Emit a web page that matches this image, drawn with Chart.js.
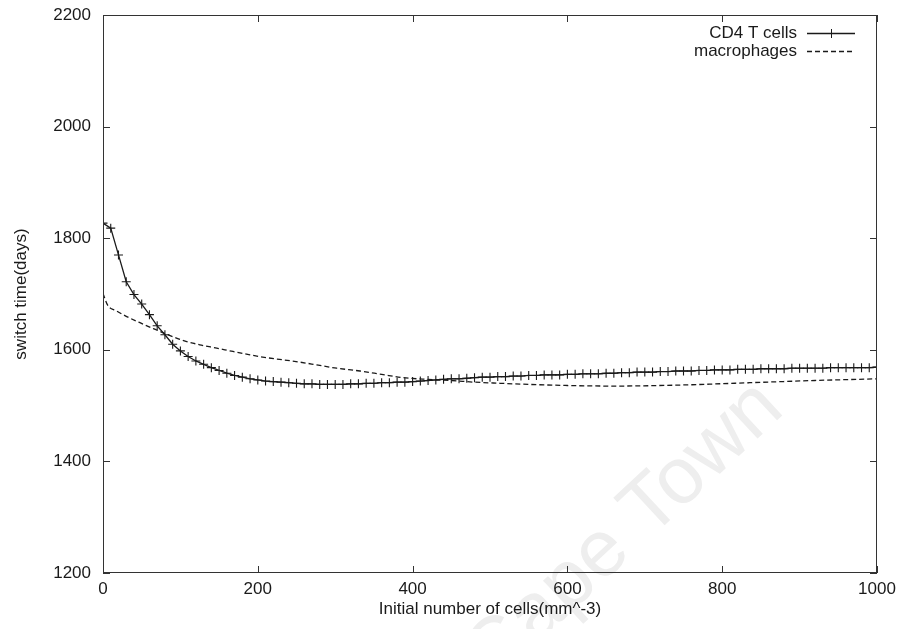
<!DOCTYPE html>
<html lang="en">
<head>
<meta charset="UTF-8">
<title>switch time vs initial number of cells</title>
<script src="https://cdn.jsdelivr.net/npm/chart.js@4.4.9/dist/chart.umd.min.js"></script>
<style>
  html, body { margin: 0; padding: 0; background: #fff; }
  #wrap { width: 902px; height: 629px; }
</style>
</head>
<body>
<div id="wrap"><canvas id="chart" width="902" height="629"></canvas></div>
<script>
// x values of the CD4 T cell run (one marker every 10 cells/mm^3)
var cd4X = [0, 10, 20, 30, 40, 50, 60, 70, 80, 90,
            100, 110, 120, 130, 140, 150, 160, 170, 180, 190,
            200, 210, 220, 230, 240, 250, 260, 270, 280, 290,
            300, 310, 320, 330, 340, 350, 360, 370, 380, 390,
            400, 410, 420, 430, 440, 450, 460, 470, 480, 490,
            500, 510, 520, 530, 540, 550, 560, 570, 580, 590,
            600, 610, 620, 630, 640, 650, 660, 670, 680, 690,
            700, 710, 720, 730, 740, 750, 760, 770, 780, 790,
            800, 810, 820, 830, 840, 850, 860, 870, 880, 890,
            900, 910, 920, 930, 940, 950, 960, 970, 980, 990, 1000];
var cd4Days = [1827, 1818, 1770, 1722, 1699, 1682, 1663, 1643, 1627, 1610,
               1598, 1588, 1580, 1574, 1568, 1563, 1558, 1554, 1551, 1548,
               1546, 1544, 1543, 1542, 1541, 1540, 1539, 1539, 1538, 1538,
               1538, 1538, 1539, 1539, 1540, 1540, 1541, 1541, 1542, 1542,
               1543, 1544, 1545, 1546, 1547, 1548, 1548, 1549, 1550, 1551,
               1551, 1552, 1552, 1553, 1553, 1554, 1554, 1555, 1555, 1555,
               1556, 1556, 1557, 1557, 1557, 1558, 1558, 1559, 1559, 1560,
               1560, 1560, 1561, 1561, 1562, 1562, 1562, 1563, 1563, 1564,
               1564, 1564, 1565, 1565, 1565, 1566, 1566, 1566, 1566, 1567,
               1567, 1567, 1567, 1567, 1568, 1568, 1568, 1568, 1568, 1568, 1569];

// macrophage run (dashed curve)
var macroX = [0, 6, 17, 30, 47, 65, 82, 103, 125, 147, 168, 190, 211, 233, 254, 276,
              302, 332, 360, 388, 420, 450, 480, 513, 550, 600, 660, 750, 835, 920, 1000];
var macroDays = [1701, 1680, 1670, 1660, 1649, 1638, 1628, 1617, 1609, 1603, 1597, 1591, 1586, 1582, 1578, 1573,
                 1567, 1562, 1556, 1550, 1547, 1545, 1542, 1540, 1538, 1536, 1535, 1537, 1541, 1545, 1548];

var seriesNames = ['CD4 T cells', 'macrophages'];
var xTicks = [0, 200, 400, 600, 800, 1000];
var yTicks = [1200, 1400, 1600, 1800, 2000, 2200];
var xTitle = 'Initial number of cells(mm^-3)';
var yTitle = 'switch time(days)';

var FONT = '"Liberation Sans", Arial, Helvetica, sans-serif';
var INK = '#1a1a1a';

function toPoints(xs, ys) {
    var pts = [];
    for (var i = 0; i < xs.length; i++) {
        pts.push({ x: xs[i], y: ys[i] });
    }
    return pts;
}

// faint scanner watermark, under everything else
var watermark = {
    id: 'watermark',
    beforeDraw: function (chart) {
        var ctx = chart.ctx;
        ctx.save();
        ctx.translate(786, 412);
        ctx.rotate(-43 * Math.PI / 180);
        ctx.font = '80px ' + FONT;
        ctx.fillStyle = '#eeeeee';
        ctx.textAlign = 'right';
        ctx.textBaseline = 'alphabetic';
        ctx.fillText('University of Cape Town', 0, 0);
        ctx.restore();
    }
};

// gnuplot style frame: box round the plot with inward ticks on all sides
var frame = {
    id: 'frame',
    afterDraw: function (chart) {
        var ctx = chart.ctx;
        var a = chart.chartArea;
        var xs = chart.scales.x, ys = chart.scales.y;
        var tl = 7;
        ctx.save();
        ctx.strokeStyle = '#333';
        ctx.lineWidth = 1;
        ctx.strokeRect(a.left + 0.5, a.top + 0.5, a.right - a.left - 1, a.bottom - a.top - 1);
        ctx.beginPath();
        xTicks.forEach(function (v) {
            var px = Math.round(xs.getPixelForValue(v)) + 0.5;
            ctx.moveTo(px, a.bottom); ctx.lineTo(px, a.bottom - tl);
            ctx.moveTo(px, a.top); ctx.lineTo(px, a.top + tl);
        });
        yTicks.forEach(function (v) {
            var py = Math.round(ys.getPixelForValue(v)) + 0.5;
            ctx.moveTo(a.left, py); ctx.lineTo(a.left + tl, py);
            ctx.moveTo(a.right, py); ctx.lineTo(a.right - tl, py);
        });
        ctx.stroke();
        ctx.restore();
    }
};

// key in the top right corner, text left of the line sample
var key = {
    id: 'key',
    afterDraw: function (chart) {
        var ctx = chart.ctx;
        var a = chart.chartArea;
        var textRight = a.right - 80;
        var x1 = a.right - 70, x2 = a.right - 22;
        ctx.save();
        ctx.font = '17px ' + FONT;
        ctx.fillStyle = INK;
        ctx.textAlign = 'right';
        ctx.textBaseline = 'middle';
        chart.data.datasets.forEach(function (ds, i) {
            var y = a.top + 18 + i * 18;
            ctx.fillText(ds.label, textRight, y);
            ctx.strokeStyle = ds.borderColor;
            ctx.lineWidth = ds.borderWidth;
            ctx.setLineDash(ds.borderDash || []);
            ctx.beginPath();
            ctx.moveTo(x1, y + 0.5); ctx.lineTo(x2, y + 0.5);
            ctx.stroke();
            ctx.setLineDash([]);
            if (ds.pointStyle === 'cross') {
                var mx = Math.round((x1 + x2) / 2) + 0.5;
                ctx.lineWidth = 1;
                ctx.beginPath();
                ctx.moveTo(mx, y - 4); ctx.lineTo(mx, y + 5);
                ctx.stroke();
            }
        });
        ctx.restore();
    }
};

function plainLabel(value) {
    return String(value);
}

const config = {
    type: 'line',
    data: {
        datasets: [{
            label: seriesNames[0],
            data: toPoints(cd4X, cd4Days),
            borderColor: INK,
            borderWidth: 1.3,
            tension: 0,
            pointStyle: 'cross',
            pointRadius: 4.5,
            pointBorderWidth: 1.1,
            pointBorderColor: INK,
            pointBackgroundColor: INK
        }, {
            label: seriesNames[1],
            data: toPoints(macroX, macroDays),
            borderColor: INK,
            borderWidth: 1.3,
            borderDash: [5, 3],
            cubicInterpolationMode: 'monotone',
            pointRadius: 0
        }]
    },
    options: {
        responsive: false,
        animation: false,
        events: [],
        layout: { padding: { top: 15, right: 25, bottom: 0, left: 0 } },
        plugins: {
            legend: { display: false },
            tooltip: { enabled: false }
        },
        scales: {
            x: {
                type: 'linear',
                min: 0,
                max: 1000,
                afterBuildTicks: function (scale) {
                    scale.ticks = xTicks.map(function (v) { return { value: v }; });
                },
                afterFit: function (scale) {
                    scale.height = 56;
                    scale.paddingLeft = 0;
                    scale.paddingRight = 0;
                },
                grid: { display: false, drawTicks: false },
                border: { display: false },
                ticks: {
                    color: INK,
                    font: { family: FONT, size: 17 },
                    padding: 6,
                    maxRotation: 0,
                    callback: plainLabel
                },
                title: {
                    display: true,
                    text: xTitle,
                    color: INK,
                    font: { family: FONT, size: 17 },
                    padding: { top: 0, bottom: 9 }
                }
            },
            y: {
                type: 'linear',
                min: 1200,
                max: 2200,
                afterBuildTicks: function (scale) {
                    scale.ticks = yTicks.map(function (v) { return { value: v }; });
                },
                afterFit: function (scale) {
                    scale.width = 103;
                    scale.paddingTop = 0;
                    scale.paddingBottom = 0;
                },
                grid: { display: false, drawTicks: false },
                border: { display: false },
                ticks: {
                    color: INK,
                    font: { family: FONT, size: 17 },
                    padding: 12,
                    callback: plainLabel
                },
                title: {
                    display: true,
                    text: yTitle,
                    color: INK,
                    font: { family: FONT, size: 17 },
                    padding: { top: 11, bottom: 0 }
                }
            }
        }
    },
    plugins: [watermark, frame, key]
};

let myChart = new Chart(document.getElementById('chart'), config);
</script>
</body>
</html>
